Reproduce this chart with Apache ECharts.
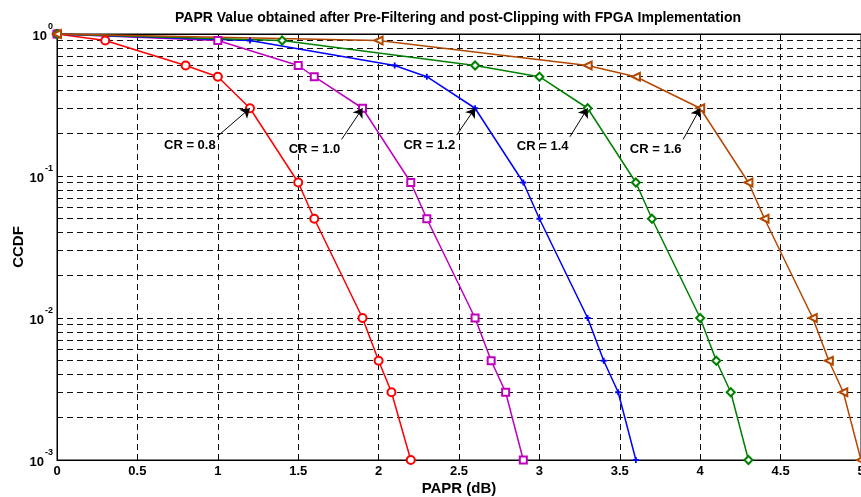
<!DOCTYPE html>
<html>
<head>
<meta charset="utf-8">
<script src="https://cdn.jsdelivr.net/npm/echarts@6/dist/echarts.min.js"></script>
<style>
  html, body { margin: 0; padding: 0; background: #fff; }
  #paprChart { width: 861px; height: 497px; }
</style>
</head>
<body>
<div id="paprChart"></div>
<script>
// CCDF levels shared by every curve
var ccdfLevels = [1, 0.9, 0.6, 0.5, 0.3, 0.09, 0.05, 0.01, 0.005, 0.003, 0.001]

// PAPR (dB) for each clipping ratio
var paprCR08 = [0, 0.3, 0.8, 1.0, 1.2, 1.5, 1.6, 1.9, 2.0, 2.08, 2.2]
var paprCR10 = [0, 1.0, 1.5, 1.6, 1.9, 2.2, 2.3, 2.6, 2.7, 2.79, 2.9]
var paprCR12 = [0, 1.2, 2.1, 2.3, 2.6, 2.9, 3.0, 3.3, 3.4, 3.49, 3.6]
var paprCR14 = [0, 1.4, 2.6, 3.0, 3.3, 3.6, 3.7, 4.0, 4.1, 4.19, 4.3]
var paprCR16 = [0, 2.0, 3.3, 3.6, 4.0, 4.3, 4.4, 4.7, 4.8, 4.89, 5.0]

var crNames = ['CR = 0.8', 'CR = 1.0', 'CR = 1.2', 'CR = 1.4', 'CR = 1.6']

// annotation anchors (data space): text right edge and arrow tail
var labelAnchors = [[0.99, 0.163], [1.765, 0.155], [2.479, 0.163], [3.184, 0.161], [3.887, 0.155]]
var arrowTails = [[0.995, 0.189], [1.77, 0.181], [2.485, 0.194], [3.19, 0.189], [3.894, 0.181]]
var arrowIndex = 4 // arrows point at the CCDF = 0.3 sample

// axis ticks
var xTicks = ['0', '0.5', '1', '1.5', '2', '2.5', '3', '3.5', '4', '4.5', '5']
var yTickExps = ['0', '-1', '-2', '-3']
var yMinorLines = [0.9, 0.8, 0.7, 0.6, 0.5, 0.4, 0.3, 0.2,
  0.09, 0.08, 0.07, 0.06, 0.05, 0.04, 0.03, 0.02,
  0.009, 0.008, 0.007, 0.006, 0.005, 0.004, 0.003, 0.002]

var fontFam = '"Liberation Sans", Arial, sans-serif'
var plusPath = 'path://M3.5,0 L6.5,0 L6.5,3.5 L10,3.5 L10,6.5 L6.5,6.5 L6.5,10 L3.5,10 L3.5,6.5 L0,6.5 L0,3.5 L3.5,3.5 Z'

var curves = [
  { x: paprCR08, color: '#ff0000', symbol: 'emptyCircle', size: 8 },
  { x: paprCR10, color: '#bf00bf', symbol: 'emptyRect', size: 7 },
  { x: paprCR12, color: '#0000ff', symbol: plusPath, size: 6 },
  { x: paprCR14, color: '#008000', symbol: 'emptyDiamond', size: 8 },
  { x: paprCR16, color: '#b34700', symbol: 'emptyTriangle', size: 8, rotate: 90 }
]

var chart = echarts.init(document.getElementById('paprChart'))

var series = curves.map(function(c, i) {
  var pts = c.x.map(function(v, k) { return [v, ccdfLevels[k]] })
  return {
    name: crNames[i],
    type: 'line',
    data: pts,
    clip: false,
    symbol: c.symbol,
    symbolSize: c.size,
    symbolRotate: c.rotate || 0,
    itemStyle: { color: c.color, borderWidth: 1.2 },
    lineStyle: { color: c.color, width: 1.5 },
    z: 5,
    markLine: {
      silent: true,
      animation: false,
      symbol: ['none', 'arrow'],
      symbolSize: 9,
      label: { show: false },
      lineStyle: { color: '#000', width: 1, type: 'solid' },
      itemStyle: { color: '#000' },
      z: 6,
      data: [[{ coord: arrowTails[i] }, { coord: pts[arrowIndex] }]]
    },
    markPoint: {
      silent: true,
      animation: false,
      symbol: 'circle',
      symbolSize: 1,
      itemStyle: { color: 'rgba(0,0,0,0)' },
      label: {
        show: true,
        position: 'left',
        distance: 0,
        color: '#000',
        fontFamily: fontFam,
        fontWeight: 'bold',
        fontSize: 13,
        formatter: crNames[i]
      },
      data: [{ coord: labelAnchors[i] }]
    }
  }
})

// minor log grid lines, drawn through the axes' own scales
series.push({
  type: 'line',
  data: [],
  silent: true,
  z: 1,
  markLine: {
    silent: true,
    animation: false,
    precision: 6,
    symbol: 'none',
    label: { show: false },
    lineStyle: { color: '#111', width: 1, type: [6, 4] },
    data: yMinorLines.map(function(v) { return { yAxis: v } })
  }
})

chart.setOption({
  backgroundColor: '#fff',
  animation: false,
  title: {
    text: 'PAPR Value obtained after Pre-Filtering and post-Clipping with FPGA Implementation',
    left: 453,
    textAlign: 'center',
    top: 6,
    textStyle: { color: '#000', fontFamily: fontFam, fontWeight: 'bold', fontSize: 14 }
  },
  grid: {
    left: 57,
    right: 0,
    top: 34,
    bottom: 37,
    outerBoundsMode: 'none',
    containLabel: false,
    show: true,
    borderColor: '#000',
    borderWidth: 1,
    backgroundColor: '#fff'
  },
  xAxis: [{
    type: 'value',
    min: 0,
    max: 5,
    interval: 0.5,
    name: 'PAPR (dB)',
    nameLocation: 'middle',
    nameGap: 21,
    nameMoveOverlap: false,
    nameTextStyle: { color: '#000', fontFamily: fontFam, fontWeight: 'bold', fontSize: 15 },
    axisLine: { lineStyle: { color: '#000', width: 1 } },
    axisTick: { inside: true, length: 5, lineStyle: { color: '#000' } },
    axisLabel: {
      margin: 5,
      color: '#000',
      fontFamily: fontFam,
      fontWeight: 'bold',
      fontSize: 13,
      formatter: function(v) { return xTicks[Math.round(v * 2)] }
    },
    splitLine: { show: true, lineStyle: { color: '#111', width: 1, type: [6, 4] } }
  }, {
    type: 'value',
    position: 'top',
    min: 0,
    max: 5,
    interval: 0.5,
    axisLine: { lineStyle: { color: '#000' } },
    axisTick: { inside: true, length: 5, lineStyle: { color: '#000' } },
    axisLabel: { show: false },
    splitLine: { show: false }
  }],
  yAxis: {
    type: 'log',
    logBase: 10,
    min: 0.001,
    max: 1,
    name: 'CCDF',
    nameLocation: 'middle',
    nameGap: 31,
    nameMoveOverlap: false,
    nameTextStyle: { color: '#000', fontFamily: fontFam, fontWeight: 'bold', fontSize: 15 },
    axisLine: { show: true, lineStyle: { color: '#000', width: 1 } },
    axisTick: { show: true, inside: true, length: 5, lineStyle: { color: '#000' } },
    axisLabel: {
      margin: 4,
      color: '#000',
      formatter: function(v) {
        return '{b|10}{s|' + yTickExps[-Math.round(Math.log10(v))] + '}'
      },
      rich: {
        b: { fontFamily: fontFam, fontWeight: 'bold', fontSize: 13, padding: [9, 0, 5, 0], color: '#000' },
        s: { fontFamily: fontFam, fontWeight: 'bold', fontSize: 9, verticalAlign: 'top', color: '#000', padding: [2, 0, 0, 1] }
      }
    },
    splitLine: { show: true, lineStyle: { color: '#111', width: 1, type: [6, 4] } }
  },
  series: series
})
</script>
</body>
</html>
